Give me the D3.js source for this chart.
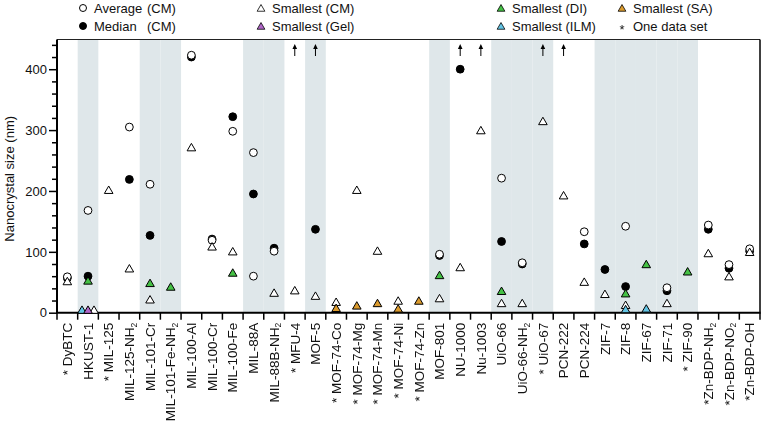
<!DOCTYPE html>
<html><head><meta charset="utf-8">
<script src="https://cdn.jsdelivr.net/npm/d3@7"></script>
<style>body{margin:0;background:#fff}svg{display:block}text{font-family:"Liberation Sans",Arial,sans-serif}</style>
</head><body><svg id="c" width="764" height="423"></svg>
<script>
// ---- data ----
const categories = ["DyBTC","HKUST-1","MIL-125","MIL-125-NH2","MIL-101-Cr","MIL-101-Fe-NH2","MIL-100-Al","MIL-100-Cr","MIL-100-Fe","MIL-88A","MIL-88B-NH2","MFU-4","MOF-5","MOF-74-Co","MOF-74-Mg","MOF-74-Mn","MOF-74-Ni","MOF-74-Zn","MOF-801","NU-1000","Nu-1003","UiO-66","UiO-66-NH2","UiO-67","PCN-222","PCN-224","ZIF-7","ZIF-8","ZIF-67","ZIF-71","ZIF-90","Zn-BDP-NH2","Zn-BDP-NO2","Zn-BDP-OH"];
const tickLabels = ["* DyBTC","HKUST-1","* MIL-125","MIL-125-NH_2","MIL-101-Cr","MIL-101-Fe-NH_2","MIL-100-Al","MIL-100-Cr","MIL-100-Fe","MIL-88A","MIL-88B-NH_2","* MFU-4","MOF-5","* MOF-74-Co","* MOF-74-Mg","* MOF-74-Mn","* MOF-74-Ni","* MOF-74-Zn","MOF-801","NU-1000","Nu-1003","UiO-66","UiO-66-NH_2","* UiO-67","PCN-222","PCN-224","ZIF-7","ZIF-8","ZIF-67","ZIF-71","* ZIF-90","*Zn-BDP-NH_2","*Zn-BDP-NO_2","*Zn-BDP-OH"];
const shaded = ["HKUST-1","MIL-101-Cr","MIL-101-Fe-NH2","MIL-88A","MIL-88B-NH2","MOF-5","MOF-801","UiO-66","UiO-66-NH2","UiO-67","ZIF-7","ZIF-8","ZIF-67","ZIF-71","ZIF-90"];
const offScale = ["MFU-4","MOF-5","NU-1000","Nu-1003","UiO-67","PCN-222"];
const averageCM = [59,168,null,305,211,null,423,119,298,263,101,null,null,null,null,null,null,null,96,null,null,221,82,null,null,133,null,142,null,41,null,144,79,105];
const averageCM2 = [null,null,null,null,null,null,null,null,null,60,null,null,null,null,null,null,null,null,null,null,null,null,null,null,null,null,null,null,null,null,null,null,null,null];
const medianCM = [57,60,null,219,127,null,420,121,322,195,106,null,137,null,null,null,null,null,94,400,null,117,80,null,null,113,71,43,null,36,null,137,73,101];
const smallestCM = [50,3,200,71,20,null,270,107,99,null,31,35,26,16,200,100,18,null,22,73,298,14,14,313,191,49,29,11,null,14,null,96,58,98];
const smallestGel = [null,3,null,null,null,null,null,null,null,null,null,null,null,null,null,null,null,null,null,null,null,null,null,null,null,null,null,null,null,null,null,null,null,null];
const smallestDI = [null,51,null,null,47,41,null,null,64,null,null,null,null,null,null,null,null,null,60,null,null,34,null,null,null,null,null,30,78,null,66,null,null,null];
const smallestILM = [null,3,null,null,null,null,null,null,null,null,null,null,null,null,null,null,null,null,null,null,null,null,null,null,null,null,null,4,5,null,null,null,null,null];
const smallestSA = [null,null,null,null,null,null,null,null,null,null,null,null,null,6,10,14,5,18,null,null,null,null,null,null,null,null,null,null,null,null,null,null,null,null];
const yTicks = [0,100,200,300,400];

// ---- layout ----
const svg = d3.select("#c");
const L = 57, R = 760, T = 39.5, B = 312.7;
const x = d3.scaleBand().domain(categories).range([L, R]).paddingInner(0).paddingOuter(0);
const y = d3.scaleLinear().domain([0, 448]).range([B, 40]);
const COL = {green:"#45c145", cyan:"#63c5e5", purple:"#b066c8", orange:"#dc9b2d", shade:"#dfe7ea"};

// shading
svg.append("g").selectAll("rect").data(shaded).join("rect")
  .attr("x", d => x(d)).attr("y", T).attr("width", x.bandwidth()).attr("height", B - T)
  .attr("fill", COL.shade);

// frame top & right
svg.append("line").attr("x1", L).attr("x2", R).attr("y1", T).attr("y2", T).attr("stroke", "#222").attr("stroke-width", 1.2);
svg.append("line").attr("x1", R).attr("x2", R).attr("y1", T).attr("y2", B).attr("stroke", "#000").attr("stroke-width", 1.5);

// y axis
const yAx = d3.axisLeft(y).tickValues(d3.range(0, 441, 20))
  .tickFormat(d => yTicks.includes(d) ? d : "").tickSizeOuter(0);
const gy = svg.append("g").attr("transform", `translate(${L},0)`).call(yAx);
gy.select(".domain").attr("stroke-width", 2).attr("d", `M0,${T}V${B}`);
gy.selectAll(".tick line").attr("stroke-width", 1.5).attr("x2", d => yTicks.includes(d) ? -8 : -5);
gy.selectAll(".tick text").attr("x", -10).style("font-size", "13px").attr("fill", "#111");
svg.append("text").attr("transform", `translate(14,${(y(0)+y(440))/2}) rotate(-90)`)
  .attr("text-anchor", "middle").style("font-size", "13px").attr("fill", "#111").text("Nanocrystal size (nm)");

// x axis
svg.append("line").attr("x1", L - 1).attr("x2", R + 0.7).attr("y1", B).attr("y2", B).attr("stroke", "#000").attr("stroke-width", 2);
const bounds = categories.map(c => x(c)).concat([R]);
svg.append("g").selectAll("line").data(bounds).join("line")
  .attr("x1", d => d).attr("x2", d => d).attr("y1", B).attr("y2", B + 7)
  .attr("stroke", "#000").attr("stroke-width", 1.5);
const xAx = d3.axisBottom(x).tickSize(0).tickFormat("");
const gx = svg.append("g").attr("transform", `translate(0,${B})`).style("filter", "grayscale(1)").call(xAx);
gx.select(".domain").remove();
gx.selectAll(".tick").each(function(d, i) {
  const t = d3.select(this).append("text")
    .attr("transform", "rotate(-90)").attr("x", -10).attr("y", 0).attr("dy", "0.35em")
    .attr("text-anchor", "end").style("font-size", "13.5px").attr("fill", "#111");
  const lab = tickLabels[i];
  const parts = lab.split("_");
  t.append("tspan").text(parts[0]);
  if (parts.length > 1) {
    t.append("tspan").attr("dy", "0.3em").style("font-size", "8.5px").text(parts[1]);
  }
});

// arrows for off-scale values
const ga = svg.append("g");
offScale.forEach(c => {
  const cx = x(c) + x.bandwidth() / 2;
  ga.append("line").attr("x1", cx).attr("x2", cx).attr("y1", 56).attr("y2", 47).attr("stroke", "#000").attr("stroke-width", 1);
  ga.append("path").attr("d", `M${cx-2.3},${49}L${cx},${44}L${cx+2.3},${49}Z`).attr("fill", "#000");
});

// markers
const cxOf = i => x(categories[i]) + x.bandwidth() / 2;
function circles(vals, fill) {
  svg.append("g").selectAll("circle")
    .data(vals.map((v, i) => ({v, i})).filter(d => d.v != null)).join("circle")
    .attr("cx", d => cxOf(d.i)).attr("cy", d => y(d.v)).attr("r", 3.9)
    .attr("fill", fill).attr("stroke", "#000").attr("stroke-width", 1);
}
circles(medianCM, "#000");
circles(averageCM, "#fff");
circles(averageCM2, "#fff");

const triSeries = [
  {vals: smallestCM, fill: "#fff"},
  {vals: smallestILM, fill: COL.cyan},
  {vals: smallestGel, fill: COL.purple},
  {vals: smallestDI, fill: COL.green},
  {vals: smallestSA, fill: COL.orange}
];
// spread coincident near-zero triangles horizontally
const dxMap = {};
categories.forEach((c, i) => {
  const near = triSeries.map((s, k) => ({k, v: s.vals[i]})).filter(d => d.v != null && d.v < 5);
  if (near.length > 1) {
    const order = [1, 2, 0];
    const sorted = near.sort((a, b) => order.indexOf(a.k) - order.indexOf(b.k));
    sorted.forEach((d, j) => { dxMap[i + "_" + d.k] = (j - (sorted.length - 1) / 2) * 6; });
  }
});
const tri = d3.symbol(d3.symbolTriangle).size(32);
triSeries.forEach((s, k) => {
  svg.append("g").selectAll("path")
    .data(s.vals.map((v, i) => ({v, i})).filter(d => d.v != null)).join("path")
    .attr("d", tri)
    .attr("transform", d => `translate(${cxOf(d.i) + (dxMap[d.i + "_" + k] || 0)},${y(d.v)})`)
    .attr("fill", s.fill).attr("stroke", "#000").attr("stroke-width", 1);
});

// legend
const lg = svg.append("g").style("font-size", "13px").attr("fill", "#111");
const legendItems = [
  {x: 83, y: 8, type: "circle", fill: "#fff", label: "Average", tail: "(CM)"},
  {x: 83, y: 26, type: "circle", fill: "#000", label: "Median", tail: "(CM)"},
  {x: 261, y: 8, type: "tri", fill: "#fff", label: "Smallest (CM)"},
  {x: 261, y: 26, type: "tri", fill: COL.purple, label: "Smallest (Gel)"},
  {x: 501, y: 8, type: "tri", fill: COL.green, label: "Smallest (DI)"},
  {x: 501, y: 26, type: "tri", fill: COL.cyan, label: "Smallest (ILM)"},
  {x: 622, y: 8, type: "tri", fill: COL.orange, label: "Smallest (SA)"},
  {x: 622, y: 26, type: "star", label: "One data set"}
];
legendItems.forEach(it => {
  if (it.type === "circle") lg.append("circle").attr("cx", it.x).attr("cy", it.y).attr("r", 3.5).attr("fill", it.fill).attr("stroke", "#000");
  else if (it.type === "tri") lg.append("path").attr("d", d3.symbol(d3.symbolTriangle).size(26)).attr("transform", `translate(${it.x},${it.y + 1})`).attr("fill", it.fill).attr("stroke", "#000").attr("stroke-width", 0.8);
  else lg.append("text").attr("x", it.x).attr("y", it.y).attr("dy", "0.6em").attr("text-anchor", "middle").style("filter", "grayscale(1)").text("*");
  lg.append("text").attr("x", it.x + 11).attr("y", it.y).attr("dy", "0.35em").text(it.label);
  if (it.tail) lg.append("text").attr("x", 147).attr("y", it.y).attr("dy", "0.35em").text(it.tail);
});
</script></body></html>
